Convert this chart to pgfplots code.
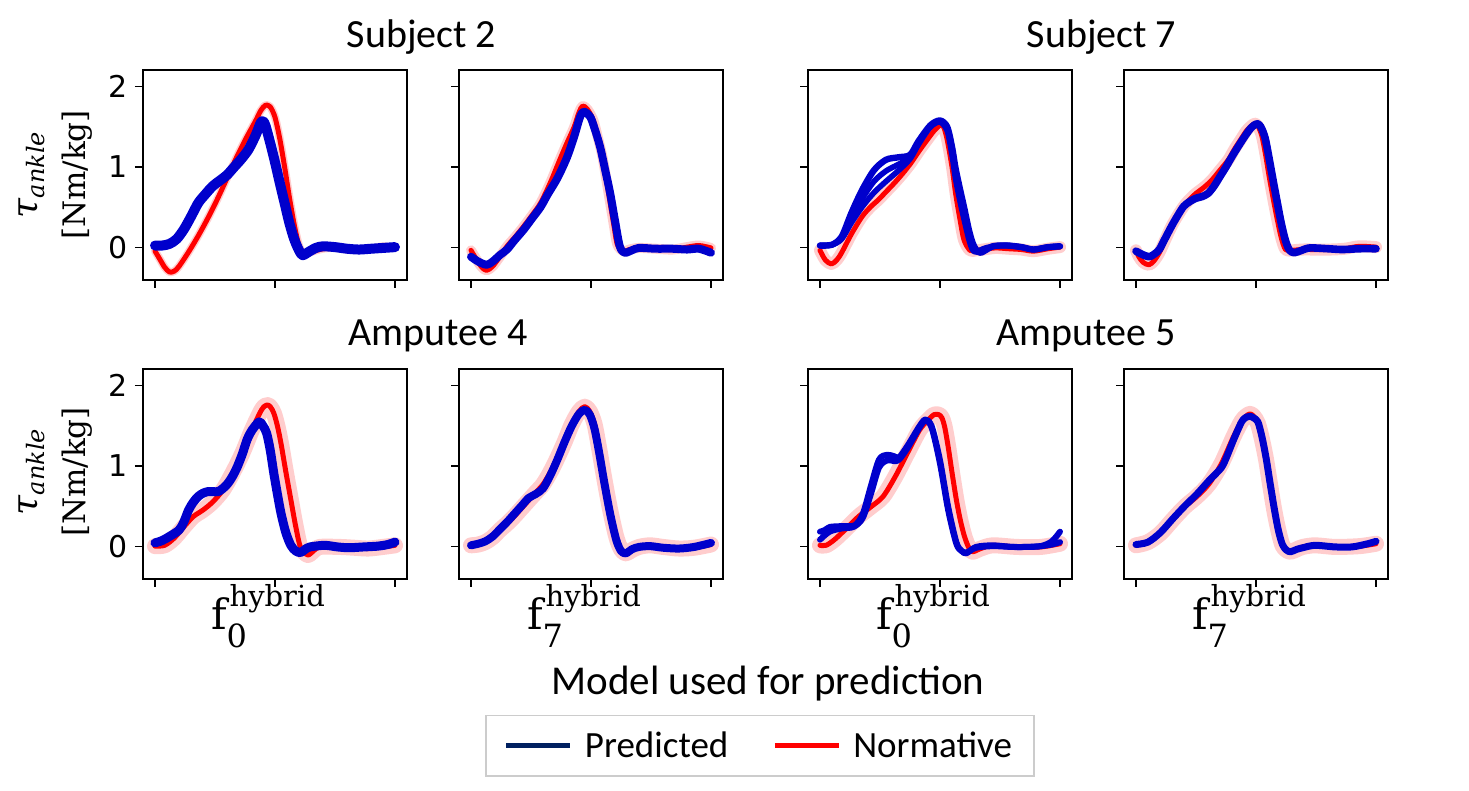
\documentclass[border=0pt]{standalone}
\usepackage{fontspec}
\setmainfont{Carlito}
\newfontfamily\dejavu{DejaVu Sans}
\newfontfamily\dserif{DejaVu Serif}
\usepackage{pgfplots}
\pgfplotsset{compat=1.18}
\definecolor{pblue}{RGB}{0,0,204}
\definecolor{ppink}{RGB}{255,205,205}
\definecolor{navy}{RGB}{0,32,96}
\definecolor{lgray}{RGB}{204,204,204}
\newcommand{\fh}[1]{{\dserif\fontsize{21}{21}\selectfont f\rlap{\raisebox{-9pt}{\fontsize{16}{16}\selectfont #1}}\hspace{1.5pt}\raisebox{11.5pt}{\fontsize{14.5}{14.5}\selectfont hybrid}}}
\pgfplotsset{
  panel/.style={scale only axis, width=132pt, height=105pt, anchor=south west,
    xmin=-5, xmax=105, ymin=-0.41, ymax=2.21,
    xtick={0,50,100}, ytick={0,1,2}, xticklabels={}, yticklabels={},
    xtick pos=bottom, ytick pos=left,
    tick align=outside, major tick length=4pt,
    every tick/.style={black, line width=0.6pt},
    axis line style={black, line width=0.6pt}},
  band/.style={ppink, line width=#1, smooth, line join=round, line cap=round, no markers, forget plot},
  band/.default=5pt,
  nline/.style={red, line width=2.5pt, smooth, line join=round, line cap=round, no markers, forget plot},
  pline/.style={pblue, line width=#1, smooth, line join=round, line cap=round, no markers, forget plot},
  pline/.default=3pt,
  leftpanel/.style={yticklabels={0,1,2},
    yticklabel style={font=\dejavu\fontsize{15}{15}\selectfont}},
  bottompanel/.style={xticklabels={,{\fh{#1}},},
    xticklabel style={inner sep=2pt, yshift=3.5pt, xshift=-3.5pt}},
}
\begin{document}
\begin{tikzpicture}
\path[use as bounding box] (0,0) rectangle (734.5pt,395.5pt);

% ---------- Subject 2, f0 ----------
\begin{axis}[panel, leftpanel, at={(71.5pt,255.5pt)}]
\addplot[band=4pt] coordinates {(0,-0.05)(2,-0.15)(4,-0.25)(6,-0.31)(8,-0.30)(10,-0.24)(14,-0.06)(18,0.14)(22,0.36)(26,0.6)(30,0.86)(34,1.12)(38,1.36)(42,1.58)(44,1.7)(46,1.77)(48,1.75)(50,1.62)(52,1.35)(54,1.0)(56,0.62)(58,0.28)(60,0.02)(62,-0.08)(65,-0.06)(70,-0.02)(75,-0.01)(80,-0.03)(85,-0.03)(90,-0.02)(95,0.01)(100,-0.01)};
\addplot[nline] coordinates {(0,-0.05)(2,-0.15)(4,-0.25)(6,-0.31)(8,-0.30)(10,-0.24)(14,-0.06)(18,0.14)(22,0.36)(26,0.6)(30,0.86)(34,1.12)(38,1.36)(42,1.58)(44,1.7)(46,1.77)(48,1.75)(50,1.62)(52,1.35)(54,1.0)(56,0.62)(58,0.28)(60,0.02)(62,-0.08)(65,-0.06)(70,-0.02)(75,-0.01)(80,-0.03)(85,-0.03)(90,-0.02)(95,0.01)(100,-0.01)};
\addplot[pline=5pt] coordinates {(0,0.02)(3,0.02)(6,0.04)(9,0.1)(12,0.22)(15,0.38)(18,0.55)(21,0.66)(24,0.76)(27,0.83)(30,0.9)(33,1.0)(36,1.1)(39,1.22)(42,1.4)(44,1.55)(45,1.57)(46,1.52)(48,1.3)(50,1.06)(52,0.8)(54,0.55)(56,0.3)(58,0.1)(60,-0.04)(61.5,-0.1)(64,-0.06)(67,-0.01)(70,0.01)(75,0.0)(80,-0.02)(85,-0.03)(90,-0.02)(95,-0.01)(100,0.0)};
\end{axis}

% ---------- Subject 2, f7 ----------
\begin{axis}[panel, at={(229.5pt,255.5pt)}]
\addplot[band=5pt] coordinates {(0,-0.04)(2.4,-0.16)(4.5,-0.25)(6.5,-0.29)(9,-0.24)(12,-0.12)(15,0.01)(18.5,0.13)(22,0.26)(25.5,0.4)(29,0.55)(33,0.8)(37,1.09)(40,1.3)(43,1.5)(45,1.68)(46.5,1.76)(48.5,1.72)(51,1.58)(53,1.35)(55,1.09)(58,0.55)(59.5,0.28)(61,0.03)(63.5,-0.05)(66,-0.03)(70,-0.01)(77,-0.02)(84,-0.03)(90,0.0)(95,0.02)(100,-0.01)};
\addplot[nline] coordinates {(0,-0.04)(2.4,-0.16)(4.5,-0.25)(6.5,-0.29)(9,-0.24)(12,-0.12)(15,0.01)(18.5,0.13)(22,0.26)(25.5,0.4)(29,0.55)(33,0.8)(37,1.09)(40,1.3)(43,1.5)(45,1.68)(46.5,1.76)(48.5,1.72)(51,1.58)(53,1.35)(55,1.09)(58,0.55)(59.5,0.28)(61,0.03)(63.5,-0.05)(66,-0.03)(70,-0.01)(77,-0.02)(84,-0.03)(90,0.0)(95,0.02)(100,-0.01)};
\addplot[pline=4pt] coordinates {(0,-0.12)(3,-0.18)(6.5,-0.22)(9,-0.18)(12,-0.1)(15,-0.03)(18,0.08)(22,0.22)(25.5,0.36)(29,0.5)(32,0.66)(36,0.86)(40,1.12)(43,1.38)(45.4,1.62)(47,1.69)(49.6,1.63)(51.5,1.48)(53.8,1.25)(56,0.95)(58,0.67)(60,0.33)(62,0.01)(64,-0.07)(67,-0.04)(70,-0.01)(77,-0.02)(84,-0.02)(90,-0.03)(95,-0.02)(100,-0.07)};
\end{axis}

% ---------- Subject 7, f0 ----------
\begin{axis}[panel, at={(404pt,255.5pt)}]
\addplot[band=6pt] coordinates {(0,-0.04)(2.2,-0.16)(4.75,-0.21)(7,-0.16)(9,-0.07)(13.2,0.17)(17.5,0.38)(21,0.5)(24.3,0.59)(27.5,0.69)(31,0.8)(34.5,0.92)(37.9,1.05)(41.3,1.2)(44.7,1.34)(47.5,1.45)(50,1.52)(51.5,1.5)(53,1.34)(55,1.0)(56.5,0.67)(58.3,0.35)(60,0.09)(62.5,-0.04)(65,-0.04)(68,-0.03)(73,-0.01)(78.6,-0.02)(84,-0.03)(89,-0.05)(95,-0.02)(100,0)};
\addplot[nline] coordinates {(0,-0.04)(2.2,-0.16)(4.75,-0.21)(7,-0.16)(9,-0.07)(13.2,0.17)(17.5,0.38)(21,0.5)(24.3,0.59)(27.5,0.69)(31,0.8)(34.5,0.92)(37.9,1.05)(41.3,1.2)(44.7,1.34)(47.5,1.45)(50,1.52)(51.5,1.5)(53,1.34)(55,1.0)(56.5,0.67)(58.3,0.35)(60,0.09)(62.5,-0.04)(65,-0.04)(68,-0.03)(73,-0.01)(78.6,-0.02)(84,-0.03)(89,-0.05)(95,-0.02)(100,0)};
\addplot[pline=2.8pt] coordinates {(0,0.02)(5,0.03)(9,0.1)(13,0.3)(17.5,0.5)(22.5,0.68)(27.5,0.82)(32.5,0.95)(37.5,1.1)(41,1.28)(46,1.5)(50,1.56)(53,1.45)(55,1.15)(56.5,0.85)(58.5,0.55)(60,0.35)(62,0.1)(63.5,-0.03)(65,-0.06)(68,-0.02)(72,0.01)(78,0.02)(84,0.0)(89,-0.03)(95,0.0)(100,0.01)};
\addplot[pline=2.8pt] coordinates {(0,0.02)(5,0.03)(9,0.12)(13,0.36)(17.5,0.6)(22.5,0.82)(27.5,0.95)(32.5,1.03)(37.5,1.12)(41,1.3)(46,1.5)(50,1.57)(53,1.48)(55,1.2)(56.5,0.92)(58.5,0.62)(60,0.42)(62,0.16)(63.5,0.02)(65,-0.05)(67,-0.06)(72,0.01)(78,0.02)(84,0.0)(89,-0.03)(95,0.0)(100,0.01)};
\addplot[pline=3.2pt] coordinates {(0,0.02)(5,0.03)(9,0.13)(13,0.42)(17.5,0.71)(22.5,0.96)(27.5,1.09)(32.5,1.12)(37.5,1.15)(41,1.32)(46,1.52)(50,1.58)(53,1.5)(55,1.25)(56.5,0.98)(58.5,0.7)(60,0.5)(62,0.22)(63.5,0.06)(65,-0.03)(67,-0.07)(72,0.01)(78,0.02)(84,0.0)(89,-0.03)(95,0.0)(100,0.01)};
\end{axis}

% ---------- Subject 7, f7 ----------
\begin{axis}[panel, at={(562pt,255.5pt)}]
\addplot[band=6pt] coordinates {(0,-0.04)(1.2,-0.12)(3,-0.19)(5.4,-0.22)(7.5,-0.17)(9.7,-0.07)(12,0.08)(14.8,0.26)(17.5,0.4)(19.9,0.51)(22.5,0.6)(25,0.67)(28.5,0.75)(31.7,0.84)(35,0.96)(38.5,1.09)(41,1.22)(43.6,1.34)(46,1.45)(48,1.51)(49.6,1.54)(51,1.5)(52.5,1.38)(54,1.15)(55.5,0.88)(57.2,0.6)(58.9,0.34)(60.5,0.12)(62.3,-0.03)(65,-0.04)(69,-0.03)(75,-0.03)(81,-0.03)(87,-0.02)(93,0.01)(100,0)};
\addplot[nline] coordinates {(0,-0.04)(1.2,-0.12)(3,-0.19)(5.4,-0.22)(7.5,-0.17)(9.7,-0.07)(12,0.08)(14.8,0.26)(17.5,0.4)(19.9,0.51)(22.5,0.6)(25,0.67)(28.5,0.75)(31.7,0.84)(35,0.96)(38.5,1.09)(41,1.22)(43.6,1.34)(46,1.45)(48,1.51)(49.6,1.54)(51,1.5)(52.5,1.38)(54,1.15)(55.5,0.88)(57.2,0.6)(58.9,0.34)(60.5,0.12)(62.3,-0.03)(65,-0.04)(69,-0.03)(75,-0.03)(81,-0.03)(87,-0.02)(93,0.01)(100,0)};
\addplot[pline=3.8pt] coordinates {(0,-0.05)(2.5,-0.09)(5.4,-0.12)(7.5,-0.09)(9.7,-0.03)(12,0.1)(14.8,0.26)(17.5,0.4)(19.9,0.51)(22.5,0.57)(25,0.61)(27.5,0.63)(30,0.67)(32.5,0.76)(35,0.88)(37.5,1.0)(40,1.13)(42.7,1.26)(45.3,1.38)(48,1.49)(50.4,1.54)(52,1.5)(53.8,1.36)(55.5,1.1)(57.2,0.82)(58.9,0.55)(60.5,0.3)(62.3,0.08)(64,-0.04)(66,-0.07)(69,-0.04)(72.5,-0.01)(80,-0.02)(86,-0.03)(93,-0.02)(100,-0.02)};
\end{axis}

% ---------- Amputee 4, f0 ----------
\begin{axis}[panel, leftpanel, bottompanel=0, at={(71.5pt,106pt)}]
\addplot[band=8pt] coordinates {(0,0)(4,0.01)(8,0.1)(12,0.24)(16,0.37)(20,0.45)(24,0.55)(28.3,0.7)(32.3,0.91)(36.4,1.16)(40.4,1.45)(44.4,1.7)(46.5,1.76)(48,1.74)(49.5,1.66)(51,1.5)(52.5,1.28)(54.5,0.93)(56.6,0.58)(58.6,0.25)(60.6,-0.01)(63.6,-0.11)(66,-0.06)(68.7,-0.01)(76.8,-0.01)(83,-0.02)(88.9,-0.03)(95,-0.01)(100,0.01)};
\addplot[nline] coordinates {(0,0)(4,0.01)(8,0.1)(12,0.24)(16,0.37)(20,0.45)(24,0.55)(28.3,0.7)(32.3,0.91)(36.4,1.16)(40.4,1.45)(44.4,1.7)(46.5,1.76)(48,1.74)(49.5,1.66)(51,1.5)(52.5,1.28)(54.5,0.93)(56.6,0.58)(58.6,0.25)(60.6,-0.01)(63.6,-0.11)(66,-0.06)(68.7,-0.01)(76.8,-0.01)(83,-0.02)(88.9,-0.03)(95,-0.01)(100,0.01)};
\addplot[pline=4.5pt] coordinates {(0,0.04)(3,0.07)(6,0.12)(10,0.2)(12,0.3)(14,0.45)(16,0.55)(18,0.62)(20,0.66)(22,0.68)(24,0.68)(26.3,0.68)(28.3,0.72)(30.3,0.78)(32.3,0.87)(34.3,0.99)(36.4,1.15)(38.4,1.33)(40.5,1.45)(43.4,1.55)(45,1.5)(46.5,1.41)(48,1.2)(49.5,0.91)(51,0.65)(52.5,0.41)(54.5,0.17)(56.6,0.01)(58.6,-0.06)(60.6,-0.08)(62.6,-0.04)(64.6,-0.01)(70.7,0.01)(76,-0.01)(80.8,-0.02)(87,-0.01)(92.9,0)(97,0.02)(100,0.05)};
\end{axis}

% ---------- Amputee 4, f7 ----------
\begin{axis}[panel, bottompanel=7, at={(229.5pt,106pt)},
  legend style={at={(1.140,-0.795)}, anchor=center, draw=lgray, line width=0.8pt,
    font=\fontsize{18.5}{20}\selectfont, inner xsep=9pt, inner ysep=6pt,
    /tikz/every odd column/.append style={column sep=4pt},
    /tikz/every even column/.append style={column sep=20pt}},
  legend columns=2, legend cell align=left,
  legend image code/.code={\draw[#1] (0pt,0pt) -- (32pt,0pt);}]
\addplot[band=8pt] coordinates {(0,0.01)(3,0.02)(6,0.05)(9,0.11)(12,0.2)(15,0.28)(18,0.37)(21,0.47)(24,0.57)(27,0.67)(30,0.77)(33,0.92)(36,1.1)(39,1.3)(42,1.52)(45,1.68)(47.4,1.74)(49.5,1.68)(51.5,1.52)(53.5,1.2)(55.5,0.85)(58,0.45)(60.5,0.12)(62.5,-0.04)(64.5,-0.09)(67,-0.05)(70,-0.01)(74.6,0.01)(80,-0.01)(86.7,-0.03)(93,-0.02)(100,0.02)};
\addplot[nline] coordinates {(0,0.01)(3,0.02)(6,0.05)(9,0.11)(12,0.2)(15,0.28)(18,0.37)(21,0.47)(24,0.57)(27,0.67)(30,0.77)(33,0.92)(36,1.1)(39,1.3)(42,1.52)(45,1.68)(47.4,1.74)(49.5,1.68)(51.5,1.52)(53.5,1.2)(55.5,0.85)(58,0.45)(60.5,0.12)(62.5,-0.04)(64.5,-0.09)(67,-0.05)(70,-0.01)(74.6,0.01)(80,-0.01)(86.7,-0.03)(93,-0.02)(100,0.02)};
\addplot[pline=4pt] coordinates {(0,0.01)(3,0.03)(6,0.06)(9,0.12)(12,0.21)(15,0.3)(18,0.4)(21,0.5)(24,0.6)(27,0.65)(30,0.72)(33,0.88)(36,1.08)(39,1.3)(42,1.5)(45,1.65)(47.4,1.7)(49.5,1.64)(51.5,1.46)(53.5,1.15)(55.5,0.8)(58,0.4)(60.5,0.08)(62.5,-0.06)(64.5,-0.09)(67,-0.04)(70,-0.01)(74.6,0.0)(80,-0.02)(86.7,-0.03)(93,-0.01)(100,0.04)};
\addlegendimage{navy, line width=2.5pt}
\addlegendentry{Predicted}
\addlegendimage{red, line width=2.5pt}
\addlegendentry{Normative\hspace{6pt}}
\end{axis}

% ---------- Amputee 5, f0 ----------
\begin{axis}[panel, bottompanel=0, at={(404pt,106pt)}]
\addplot[band=8pt] coordinates {(0,0.01)(2.5,0.01)(6,0.08)(11,0.22)(16.1,0.37)(21.2,0.49)(26.3,0.62)(31.4,0.87)(36.4,1.16)(41.5,1.45)(45,1.57)(47.5,1.64)(49.5,1.64)(50.8,1.6)(52,1.48)(53.4,1.24)(55,0.92)(56.8,0.58)(58.5,0.32)(60.2,0.12)(62,-0.02)(63.6,-0.07)(67,-0.03)(72,0.01)(82,-0.01)(92,-0.01)(100,0.03)};
\addplot[nline] coordinates {(0,0.01)(2.5,0.01)(6,0.08)(11,0.22)(16.1,0.37)(21.2,0.49)(26.3,0.62)(31.4,0.87)(36.4,1.16)(41.5,1.45)(45,1.57)(47.5,1.64)(49.5,1.64)(50.8,1.6)(52,1.48)(53.4,1.24)(55,0.92)(56.8,0.58)(58.5,0.32)(60.2,0.12)(62,-0.02)(63.6,-0.07)(67,-0.03)(72,0.01)(82,-0.01)(92,-0.01)(100,0.03)};
\addplot[pline=3pt] coordinates {(0,0.08)(4,0.18)(9,0.22)(14,0.24)(17.8,0.35)(21.2,0.65)(24.6,0.98)(28,1.07)(31,1.06)(33,1.08)(36.4,1.22)(41.5,1.48)(44,1.57)(46.6,1.47)(50,1.03)(53.4,0.45)(56.8,0.03)(59,-0.06)(61,-0.08)(65,-0.02)(72,0.0)(80,-0.01)(86,-0.01)(92,0.0)(96.6,0.02)(100,0.05)};
\addplot[pline=3pt] coordinates {(0,0.18)(2,0.2)(4.2,0.24)(9.3,0.25)(14.4,0.26)(17.8,0.4)(21.2,0.75)(24.6,1.08)(28,1.14)(31,1.12)(33,1.11)(36.4,1.25)(41.5,1.5)(44,1.58)(46.6,1.49)(50,1.07)(53.4,0.49)(56.8,0.05)(59,-0.06)(61,-0.09)(65,-0.01)(72,0.01)(80,-0.01)(86,-0.01)(92,0.0)(96.6,0.06)(100,0.18)};
\end{axis}

% ---------- Amputee 5, f7 ----------
\begin{axis}[panel, bottompanel=7, at={(562pt,106pt)}]
\addplot[band=8pt] coordinates {(0,0.01)(5,0.05)(10.2,0.16)(15.3,0.33)(20.3,0.49)(25.4,0.62)(30.5,0.78)(35.6,1.03)(40.7,1.37)(44,1.56)(45.8,1.62)(47.5,1.65)(49,1.62)(50.8,1.53)(52.5,1.33)(54.2,1.08)(55.9,0.76)(57.6,0.45)(59.3,0.2)(61,0.01)(62.7,-0.05)(64.4,-0.07)(67,-0.04)(69.5,-0.01)(74.6,0.01)(83,-0.01)(93.2,0.0)(100,0.03)};
\addplot[nline] coordinates {(0,0.01)(5,0.05)(10.2,0.16)(15.3,0.33)(20.3,0.49)(25.4,0.62)(30.5,0.78)(35.6,1.03)(40.7,1.37)(44,1.56)(45.8,1.62)(47.5,1.65)(49,1.62)(50.8,1.53)(52.5,1.33)(54.2,1.08)(55.9,0.76)(57.6,0.45)(59.3,0.2)(61,0.01)(62.7,-0.05)(64.4,-0.07)(67,-0.04)(69.5,-0.01)(74.6,0.01)(83,-0.01)(93.2,0.0)(100,0.03)};
\addplot[pline=3.5pt] coordinates {(0,0.02)(5,0.05)(10.2,0.17)(15.3,0.34)(20.3,0.5)(25.4,0.65)(30.5,0.82)(35.6,0.98)(38,1.13)(40.7,1.33)(44,1.55)(46,1.61)(47.5,1.62)(49,1.6)(50.8,1.55)(52.5,1.36)(54.2,1.1)(55.9,0.78)(57.6,0.47)(59.3,0.2)(61,0.02)(62.7,-0.05)(64.4,-0.07)(67,-0.04)(69.5,-0.02)(74.6,0.01)(83,-0.01)(90,-0.01)(96.6,0.03)(100,0.06)};
\end{axis}

% ---------- y labels ----------
\node[rotate=90, anchor=base, inner sep=0pt, font=\dserif\itshape\fontsize{18}{18}\selectfont] at (19pt,308pt) {τ\raisebox{-3.5pt}{\fontsize{12}{12}\selectfont ankle}};
\node[rotate=90, anchor=base, inner sep=0pt, font=\dserif\fontsize{15.5}{15.5}\selectfont] at (43pt,308pt) {[Nm/kg]};
\node[rotate=90, anchor=base, inner sep=0pt, font=\dserif\itshape\fontsize{18}{18}\selectfont] at (19pt,159.5pt) {τ\raisebox{-3.5pt}{\fontsize{12}{12}\selectfont ankle}};
\node[rotate=90, anchor=base, inner sep=0pt, font=\dserif\fontsize{15.5}{15.5}\selectfont] at (43pt,159.5pt) {[Nm/kg]};

% ---------- titles ----------
\node[anchor=base, font=\fontsize{20}{24}\selectfont] at (210.75pt,371.5pt) {Subject 2};
\node[anchor=base, font=\fontsize{20}{24}\selectfont] at (550.75pt,371.5pt) {Subject 7};
\node[anchor=base, font=\fontsize{20}{24}\selectfont] at (219pt,222.5pt) {Amputee 4};
\node[anchor=base, font=\fontsize{20}{24}\selectfont] at (543pt,222.5pt) {Amputee 5};
\node[anchor=base, font=\fontsize{20.5}{24}\selectfont] at (384pt,48pt) {Model used for prediction};
\end{tikzpicture}
\end{document}
